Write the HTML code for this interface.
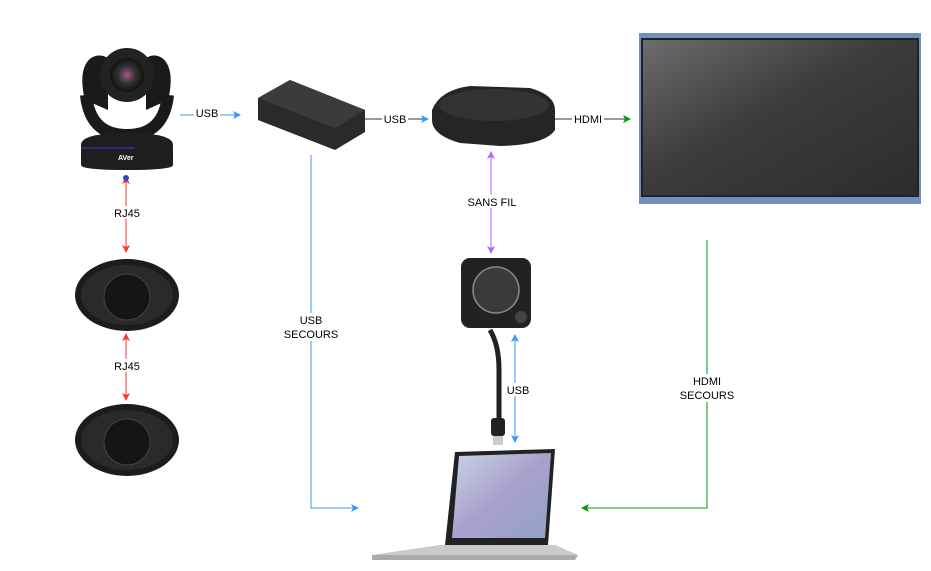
<!DOCTYPE html>
<html><head><style>body{margin:0;background:#fff}svg{display:block}text{font-family:"Liberation Sans",sans-serif;font-size:11px;fill:#000}</style></head><body>
<svg width="931" height="571" viewBox="0 0 931 571">
<defs>
<marker id="ab" markerWidth="8" markerHeight="8" refX="7" refY="4" orient="auto-start-reverse" markerUnits="userSpaceOnUse"><path d="M0,0L8,4L0,8L2,4z" fill="#3399ff"/></marker>
<marker id="ag" markerWidth="8" markerHeight="8" refX="7" refY="4" orient="auto-start-reverse" markerUnits="userSpaceOnUse"><path d="M0,0L8,4L0,8L2,4z" fill="#009900"/></marker>
<marker id="ar" markerWidth="8" markerHeight="8" refX="7" refY="4" orient="auto-start-reverse" markerUnits="userSpaceOnUse"><path d="M0,0L8,4L0,8L2,4z" fill="#ff3333"/></marker>
<marker id="ap" markerWidth="8" markerHeight="8" refX="7" refY="4" orient="auto-start-reverse" markerUnits="userSpaceOnUse"><path d="M0,0L8,4L0,8L2,4z" fill="#b266ff"/></marker>
<radialGradient id="lens"><stop offset="0" stop-color="#a58"/><stop offset=".5" stop-color="#333"/><stop offset="1" stop-color="#111"/></radialGradient>
<linearGradient id="scr" x1="0" y1="0" x2="1" y2="1"><stop offset="0" stop-color="#6c6c6c"/><stop offset=".45" stop-color="#3c3c3c"/><stop offset="1" stop-color="#2c2c2c"/></linearGradient>
<linearGradient id="lap" x1="0" y1="0" x2="1" y2="1"><stop offset="0" stop-color="#c8d4e4"/><stop offset=".5" stop-color="#a9a0cc"/><stop offset="1" stop-color="#8fa4c4"/></linearGradient>
</defs>
<!-- camera -->
<path d="M85,100 C75,60 95,50 108,58 L108,110 Z" fill="#1a1a1a"/>
<path d="M168,100 C178,60 158,50 146,58 L146,110 Z" fill="#1a1a1a"/>
<path d="M86,95 Q90,135 127,135 Q164,135 168,95" fill="none" stroke="#1a1a1a" stroke-width="12"/>
<circle cx="127" cy="75" r="27" fill="#222"/>
<circle cx="127" cy="75" r="17" fill="url(#lens)"/>
<path d="M81,145 Q81,133 127,133 Q173,133 173,145 L173,165 Q173,170 127,170 Q81,170 81,165Z" fill="#1e1e1e"/>
<text x="118" y="160" style="font-size:7px;fill:#fff;font-weight:bold">AVer</text>
<line x1="81" y1="148" x2="135" y2="148" stroke="#3344cc"/>
<!-- hub -->
<path d="M258,98 L290,80 L365,110 L365,132 L335,150 L258,120Z" fill="#2a2a2a"/>
<path d="M258,98 L290,80 L365,110 L335,128Z" fill="#3b3b3b"/>
<!-- click base -->
<path d="M432,110 Q440,90 470,86 L530,88 Q555,95 555,110 L555,130 Q545,145 500,146 L460,143 Q432,135 432,120Z" fill="#252525"/>
<ellipse cx="494" cy="105" rx="55" ry="16" fill="#333"/>
<!-- display -->
<rect x="639" y="33" width="282" height="171" fill="#7090c0"/>
<rect x="641" y="38" width="278" height="159" fill="#222"/>
<rect x="643" y="40" width="274" height="155" fill="url(#scr)"/>
<!-- speakers -->
<g><ellipse cx="127" cy="295" rx="52" ry="36" fill="#1c1c1c"/><ellipse cx="127" cy="295" rx="46" ry="30" fill="#2a2a2a"/><circle cx="127" cy="297" r="23" fill="#151515" stroke="#444"/></g>
<g><ellipse cx="127" cy="440" rx="52" ry="36" fill="#1c1c1c"/><ellipse cx="127" cy="440" rx="46" ry="30" fill="#2a2a2a"/><circle cx="127" cy="442" r="23" fill="#151515" stroke="#444"/></g>
<!-- button -->
<rect x="461" y="258" width="70" height="70" rx="9" fill="#222"/>
<circle cx="496" cy="290" r="23" fill="#3a3a3a" stroke="#888" stroke-width="1.5"/>
<circle cx="521" cy="317" r="6" fill="#444"/>
<path d="M490,330 Q499,345 499,370 L499,420" stroke="#222" stroke-width="5" fill="none"/>
<rect x="491" y="418" width="14" height="18" rx="3" fill="#222"/>
<rect x="493" y="436" width="10" height="9" fill="#ccc"/>
<!-- laptop -->
<path d="M455,452 L555,449 L548,545 L445,545Z" fill="#222"/>
<path d="M459,456 L551,453 L545,538 L452,538Z" fill="url(#lap)"/>
<path d="M440,545 L555,545 L578,555 L372,555Z" fill="#c9cacc"/>
<path d="M372,555 L578,555 L575,560 L372,560Z" fill="#aaa"/>
<!-- connectors -->
<g fill="none" stroke-width="1">
<line x1="180" y1="115" x2="240" y2="115" stroke="#3399ff" marker-end="url(#ab)"/>
<line x1="365" y1="119" x2="428" y2="119" stroke="#333" marker-end="url(#ab)"/>
<line x1="555" y1="119" x2="630" y2="119" stroke="#333" marker-end="url(#ag)"/>
<path d="M311,155 V508 H358" stroke="#3399ff" marker-end="url(#ab)"/>
<path d="M707,240 V508 H582" stroke="#009900" marker-end="url(#ag)"/>
<line x1="491" y1="152" x2="491" y2="253" stroke="#b266ff" marker-start="url(#ap)" marker-end="url(#ap)"/>
<line x1="515" y1="335" x2="515" y2="442" stroke="#3399ff" marker-start="url(#ab)" marker-end="url(#ab)"/>
<line x1="126" y1="177" x2="126" y2="252" stroke="#ff3333" marker-start="url(#ar)" marker-end="url(#ar)"/>
<line x1="126" y1="334" x2="126" y2="400" stroke="#ff3333" marker-start="url(#ar)" marker-end="url(#ar)"/>
</g>
<circle cx="126" cy="178" r="3" fill="#3344cc"/>
<g text-anchor="middle">
<rect x="194" y="107" width="26" height="13" fill="#fff"/><text x="207" y="117">USB</text>
<rect x="382" y="112" width="26" height="13" fill="#fff"/><text x="395" y="123">USB</text>
<rect x="572" y="112" width="32" height="13" fill="#fff"/><text x="588" y="123">HDMI</text>
<rect x="465" y="195" width="54" height="13" fill="#fff"/><text x="492" y="206">SANS FIL</text>
<rect x="110" y="206" width="34" height="13" fill="#fff"/><text x="127" y="217">RJ45</text>
<rect x="110" y="359" width="34" height="13" fill="#fff"/><text x="127" y="370">RJ45</text>
<rect x="282" y="313" width="58" height="28" fill="#fff"/><text x="311" y="324">USB</text><text x="311" y="338">SECOURS</text>
<rect x="678" y="374" width="58" height="28" fill="#fff"/><text x="707" y="385">HDMI</text><text x="707" y="399">SECOURS</text>
<rect x="505" y="383" width="26" height="13" fill="#fff"/><text x="518" y="394">USB</text>
</g>
</svg>
</body></html>
